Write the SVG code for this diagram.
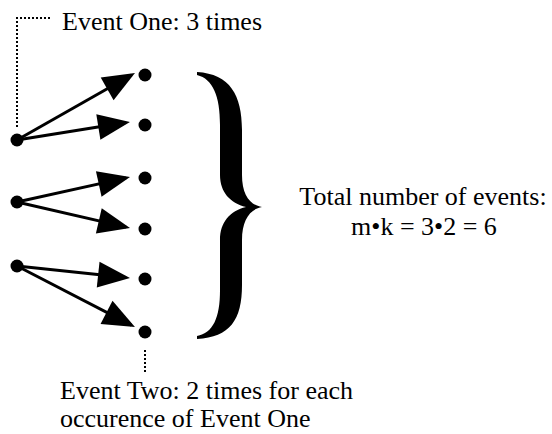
<svg xmlns="http://www.w3.org/2000/svg" width="552" height="434" viewBox="0 0 552 434">
<style>
text{font-family:"Liberation Serif","Times New Roman",serif;font-size:26px;fill:#000}
.dot{fill:#000}
.arr{stroke:#000;stroke-width:3;fill:none;marker-end:url(#ah)}
.dotted{stroke:#000;stroke-width:2;stroke-dasharray:2 2;fill:none}
</style>
<defs>
<marker id="ah" markerUnits="userSpaceOnUse" markerWidth="32" markerHeight="26" refX="28" refY="13" orient="auto" overflow="visible">
<path d="M0,0 L32,13 L0,26 Z" fill="#000"/>
</marker>
</defs>
<rect width="552" height="434" fill="#fff"/>
<g id="connectors">
<line class="arr" x1="17" y1="140" x2="131.5" y2="75.0"/>
<line class="arr" x1="17" y1="140" x2="126.0" y2="122.6"/>
<line class="arr" x1="17" y1="202" x2="126.1" y2="177.9"/>
<line class="arr" x1="17" y1="202" x2="126.1" y2="227.1"/>
<line class="arr" x1="17" y1="266" x2="126.0" y2="277.6"/>
<line class="arr" x1="17" y1="266" x2="131.4" y2="325.2"/>
<polyline class="dotted" points="17,127 17,18 50,18"/>
<line class="dotted" x1="145" y1="350" x2="145" y2="374"/>
</g>
<g id="sources">
<circle class="dot" cx="17" cy="140" r="6.5"/>
<circle class="dot" cx="17" cy="202" r="6.5"/>
<circle class="dot" cx="17" cy="266" r="6.5"/>
</g>
<g id="targets">
<circle class="dot" cx="145" cy="75" r="6.5"/>
<circle class="dot" cx="145" cy="125" r="6.5"/>
<circle class="dot" cx="145" cy="178" r="6.5"/>
<circle class="dot" cx="145" cy="229" r="6.5"/>
<circle class="dot" cx="145" cy="279" r="6.5"/>
<circle class="dot" cx="145" cy="332" r="6.5"/>
</g>
<g id="brace">
<path fill="#000" d="M197,72 C230,74 242,95 242,130 L242,175 C242,195 250,205 262,207 C250,209 242,220 242,240 L242,285 C242,320 230,337 197,339 L197,336 C213,333 220,318 220,290 L220,240 C220,222 230,211 246,207 C230,203 220,192 220,175 L220,125 C220,96 213,79 197,75 Z"/>
</g>
<g id="event-one"><text x="62" y="30">Event One: 3 times</text></g>
<g id="total">
<text x="423" y="205" text-anchor="middle">Total number of events:</text>
<text x="424" y="235" text-anchor="middle">m•k = 3•2 = 6</text>
</g>
<g id="event-two">
<text x="60" y="399">Event Two: 2 times for each</text>
<text x="60" y="427">occurence of Event One</text>
</g>
</svg>
